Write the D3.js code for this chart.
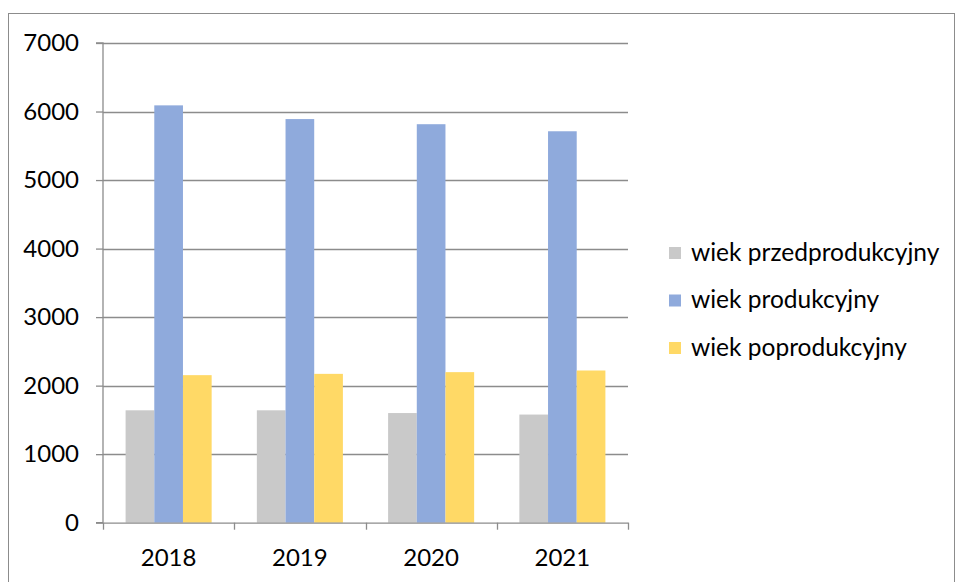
<!DOCTYPE html>
<html>
<head>
<meta charset="utf-8">
<script src="https://cdn.jsdelivr.net/npm/d3@7"></script>
<style>
html,body{margin:0;padding:0;background:#fff;}
svg{display:block;}
text{font-family:Lato,"Open Sans",sans-serif;fill:#000;}
</style>
</head>
<body>
<svg id="chart" width="955" height="582"></svg>
<script>
const categories = ["2018", "2019", "2020", "2021"];
const seriesNames = ["wiek przedprodukcyjny", "wiek produkcyjny", "wiek poprodukcyjny"];
const przedprodukcyjny = [1640, 1640, 1600, 1578];
const produkcyjny = [6090, 5890, 5815, 5712];
const poprodukcyjny = [2153, 2172, 2197, 2221];
const seriesColors = ["#C9C9C9", "#8FAADC", "#FFD966"];
const yTicks = [0, 1000, 2000, 3000, 4000, 5000, 6000, 7000];

const seriesValues = [przedprodukcyjny, produkcyjny, poprodukcyjny];

const svg = d3.select("#chart");
const pLeft = 103, pRight = 628, pTop = 43, pBottom = 522.7;
const fontSize = 24;

// outer border
svg.append("rect").attr("x", 8.5).attr("y", 13.5).attr("width", 946).attr("height", 600)
  .attr("fill", "none").attr("stroke", "#8c8c8c").attr("stroke-width", 1);

const x = d3.scaleBand().domain(categories).range([pLeft, pRight]).paddingInner(0).paddingOuter(0);
const x1 = d3.scaleBand().domain(seriesNames).range([22.6, x.bandwidth() - 22.6]).paddingInner(0).paddingOuter(0);

const y = d3.scaleLinear().domain([0, 7000]).range([pBottom, pTop]);

// gridlines
svg.append("g").selectAll("line").data(yTicks.filter(d => d > 0)).join("line")
  .attr("x1", pLeft).attr("x2", pRight)
  .attr("y1", d => Math.round(y(d)) + 0.5).attr("y2", d => Math.round(y(d)) + 0.5)
  .attr("stroke", "#8c8c8c").attr("stroke-width", 1.3);

// bars
const groups = svg.append("g").selectAll("g").data(categories).join("g")
  .attr("transform", d => `translate(${x(d)},0)`);
groups.selectAll("rect").data((c, i) => seriesNames.map((s, k) => ({s, k, v: seriesValues[k][i]})))
  .join("rect")
  .attr("x", d => x1(d.s))
  .attr("width", x1.bandwidth())
  .attr("y", d => y(d.v))
  .attr("height", d => y(0) - y(d.v))
  .attr("fill", d => seriesColors[d.k]);

// y axis
const yAxis = d3.axisLeft(y).tickValues(yTicks).tickSize(7).tickPadding(17).tickFormat(d3.format("d"));
const gy = svg.append("g").attr("transform", `translate(${pLeft},0)`).call(yAxis);
gy.select(".domain").attr("stroke", "#8c8c8c").attr("stroke-width", 1.3);
gy.selectAll(".tick line").attr("stroke", "#8c8c8c").attr("stroke-width", 1.3);
gy.selectAll(".tick text").attr("font-size", fontSize).attr("font-family", "Lato, sans-serif").attr("fill", "#000");
gy.select(".domain").attr("d", `M-7,${y(7000)}H0V${y(0)}H-7`);

// x axis
const xAxis = d3.axisBottom(x).tickSize(0).tickPadding(22);
const gx = svg.append("g").attr("transform", `translate(0,${pBottom})`).call(xAxis);
gx.select(".domain").attr("stroke", "#8c8c8c").attr("stroke-width", 1.3);
gx.selectAll(".tick text").attr("font-size", fontSize).attr("font-family", "Lato, sans-serif").attr("fill", "#000")
  .attr("y", 43).attr("dy", 0);
const bounds = categories.map(c => x(c)).concat([x(categories[categories.length - 1]) + x.bandwidth()]);
gx.append("g").selectAll("line").data(bounds).join("line")
  .attr("x1", d => Math.round(d) + 0.5).attr("x2", d => Math.round(d) + 0.5)
  .attr("y1", 0).attr("y2", 7)
  .attr("stroke", "#8c8c8c").attr("stroke-width", 1.3);

// legend
const legend = svg.append("g").attr("transform", "translate(669,0)");
const rowY = [253, 300.5, 348];
const lg = legend.selectAll("g").data(seriesNames).join("g")
  .attr("transform", (d, i) => `translate(0,${rowY[i]})`);
lg.append("rect").attr("x", 0).attr("y", -6).attr("width", 12).attr("height", 12)
  .attr("fill", (d, i) => seriesColors[i]);
lg.append("text").attr("x", 22).attr("y", 7.5)
  .attr("font-size", 24.5).text(d => d);
</script>
</body>
</html>
